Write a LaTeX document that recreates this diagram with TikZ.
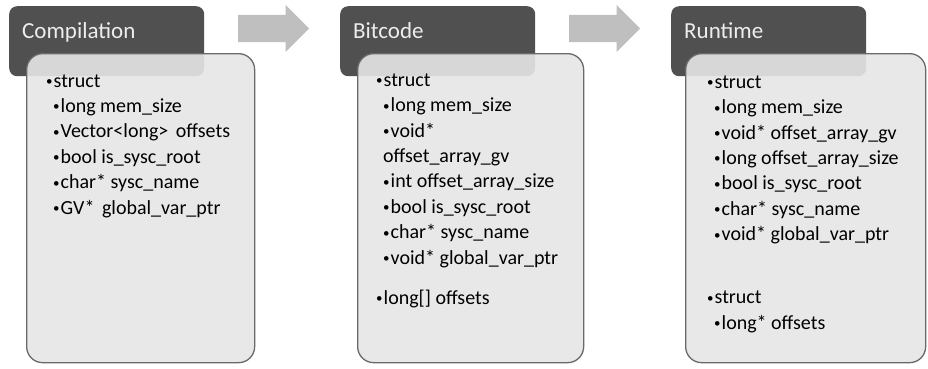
\documentclass[tikz,border=0pt]{standalone}
\usepackage{fontspec}
\setmainfont{Carlito}
\usetikzlibrary{shapes.arrows}

\definecolor{headGray}{RGB}{80,80,80}
\definecolor{bodyGray}{RGB}{230,230,230}
\definecolor{edgeGray}{RGB}{105,105,105}
\definecolor{arrowGray}{RGB}{191,191,191}

% small bullet and the two list levels
\newcommand{\dotMark}{\raisebox{1.6pt}{\fontsize{13}{13}\selectfont\textbullet}\hspace{1pt}}
\newcommand{\lvlOne}[1]{\dotMark#1}
\newcommand{\lvlTwo}[1]{\hspace*{7pt}\dotMark#1}

\tikzset{
  stagehead/.style={fill=headGray, rounded corners=8pt, minimum width=195pt,
    minimum height=70pt, anchor=north west, inner sep=0pt},
  stagebody/.style={draw=edgeGray, line width=1.3pt, fill=bodyGray, fill opacity=0.9,
    rounded corners=16pt, minimum height=309pt, anchor=north west, inner sep=0pt},
  headtext/.style={anchor=base west, inner sep=0pt, text=white!93!black,
    font=\fontsize{23}{27}\selectfont},
  % base west of a multi-line node is the baseline of its last line
  bodytext/.style={anchor=base west, inner sep=0pt, align=left,
    font=\fontsize{20}{25.4}\selectfont},
  flow/.style={single arrow, fill=arrowGray, minimum height=71pt, inner xsep=0pt,
    inner ysep=13.5pt, single arrow head extend=10pt, anchor=west}
}

\begin{document}
\begin{tikzpicture}[x=1pt,y=-1pt]

        \useasboundingbox (0,0) rectangle (928,368);

        % Draw the arrows between the stages
        \node[flow] (arrA) at (238,28.5) {};
        \node[flow] (arrB) at (569,28.5) {};

        % Compilation
        \node[stagehead] (compHead) at (9,6) {};
        \node[stagebody, minimum width=228pt] (compBody) at (26,53) {};
        \node[headtext] (compTitle) at (22,38) {Compilation};
        \node[bodytext] (compList) at (46,214) {%
            \lvlOne{struct}\\
            \lvlTwo{long mem\_size}\\
            \lvlTwo{Vector<long>\hspace{3pt} offsets}\\
            \lvlTwo{bool is\_sysc\_root}\\
            \lvlTwo{char* sysc\_name}\\
            \lvlTwo{GV*\hspace{3pt} global\_var\_ptr}};

        % Bitcode
        \node[stagehead] (bitHead) at (340,6) {};
        \node[stagebody, minimum width=226pt] (bitBody) at (357,53) {};
        \node[headtext] (bitTitle) at (353,38) {Bitcode};
        \node[bodytext] (bitList) at (376,304) {%
            \lvlOne{struct}\\
            \lvlTwo{long mem\_size}\\
            \lvlTwo{void*}\\
            \hspace*{7pt}offset\_array\_gv\\
            \lvlTwo{int offset\_array\_size}\\
            \lvlTwo{bool is\_sysc\_root}\\
            \lvlTwo{char* sysc\_name}\\
            \lvlTwo{void* global\_var\_ptr}\\[14.6pt]
            \lvlOne{long[] offsets}};

        % Runtime
        \node[stagehead] (runHead) at (671,6) {};
        \node[stagebody, minimum width=240pt] (runBody) at (685,53) {};
        \node[headtext] (runTitle) at (684,38) {Runtime};
        \node[bodytext] (runList) at (707,329) {%
            \lvlOne{struct}\\
            \lvlTwo{long mem\_size}\\
            \lvlTwo{void* offset\_array\_gv}\\
            \lvlTwo{long offset\_array\_size}\\
            \lvlTwo{bool is\_sysc\_root}\\
            \lvlTwo{char* sysc\_name}\\
            \lvlTwo{void* global\_var\_ptr}\\[37.6pt]
            \lvlOne{struct}\\
            \lvlTwo{long* offsets}};

\end{tikzpicture}
\end{document}
